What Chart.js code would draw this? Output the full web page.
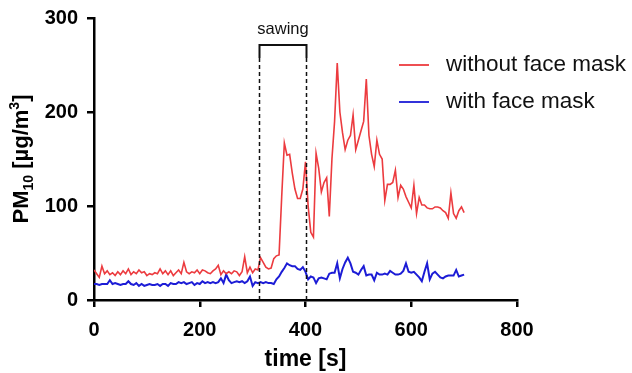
<!DOCTYPE html>
<html>
<head>
<meta charset="utf-8">
<script src="https://cdn.jsdelivr.net/npm/chart.js@4"></script>
<style>
  html, body { margin: 0; padding: 0; background: #fff; }
  #wrap { width: 632px; height: 373px; }
</style>
</head>
<body>
<div id="wrap"><canvas id="pmChart" width="632" height="373"></canvas></div>
<script>
// time [s], one reading every 5 s
const TIMES = [];
for (let t = 0; t <= 700; t += 5) TIMES.push(t);

const WITHOUT_MASK = [
  32, 28, 24, 36, 28, 31, 27, 29, 26, 30, 27, 31, 28, 33, 27, 30, 28, 32, 29, 30,
  26, 28, 27, 29, 28, 33, 28, 31, 27, 31, 26, 29, 32, 28, 40, 30, 28, 30, 29, 32,
  28, 32, 31, 29, 28, 31, 33, 37, 27, 31, 28, 30, 28, 31, 30, 26, 30, 46, 29, 35,
  29, 33, 32, 45, 40, 35, 33, 34, 44, 47, 48, 110, 167, 154, 155, 135, 118, 108, 108, 118,
  147, 100, 72, 67, 156, 140, 115, 125, 130, 89, 150, 190, 252, 200, 178, 160, 170, 175, 197, 160,
  170, 180, 190, 235, 175, 155, 142, 170, 155, 150, 106, 123, 123, 125, 138, 109, 122, 118, 110, 104,
  98, 122, 92, 109, 101, 101, 98, 97, 97, 99, 99, 98, 95, 93, 87, 114, 92, 87, 95, 99,
  93,
];

const WITH_MASK = [
  17, 17, 16, 17, 17, 17, 21, 17, 18, 17, 16, 17, 17, 20, 17, 16, 18, 15, 17, 15,
  16, 17, 16, 16, 17, 15, 17, 17, 15, 18, 17, 17, 19, 18, 19, 17, 18, 19, 16, 18,
  17, 20, 18, 19, 18, 19, 18, 19, 23, 18, 27, 21, 18, 19, 20, 19, 20, 18, 20, 25,
  15, 19, 18, 19, 18, 19, 18, 18, 17, 22, 25, 30, 34, 39, 37, 36, 36, 33, 32, 35,
  30, 22, 25, 24, 18, 23, 24, 23, 22, 28, 29, 29, 39, 23, 33, 40, 45, 39, 30, 29,
  27, 32, 36, 26, 27, 27, 21, 29, 27, 27, 28, 27, 31, 29, 27, 27, 28, 31, 39, 30,
  29, 30, 27, 24, 20, 30, 39, 22, 28, 30, 27, 24, 23, 25, 26, 26, 26, 32, 25, 26,
  27,
];

const SERIES_LABELS = ["without face mask", "with face mask"];
const SERIES_COLORS = ["#ec3b3f", "#1c1cd6"];

const X_TICKS = [0, 200, 400, 600, 800];
const Y_TICKS = [0, 100, 200, 300];

const SAWING = [312, 400]; // start / end of sawing [s]

const FONT = "'Liberation Sans', Arial, sans-serif";

function toPoints(values) {
  return values.map((v, i) => ({ x: TIMES[i], y: v }));
}

const annotations = {
  id: "annotations",
  afterDatasetsDraw(chart) {
    const ctx = chart.ctx;
    const xs = chart.scales.x;
    const ys = chart.scales.y;
    const x1 = Math.round(xs.getPixelForValue(SAWING[0])) + 0.5;
    const x2 = Math.round(xs.getPixelForValue(SAWING[1])) + 0.5;
    const yBottom = ys.getPixelForValue(0);
    const yTop = 45;
    const yBracket = 58;

    ctx.save();
    ctx.strokeStyle = "#111";
    ctx.lineWidth = 1.5;
    ctx.setLineDash([4, 3]);
    [x1, x2].forEach((x) => {
      ctx.beginPath();
      ctx.moveTo(x, yBracket);
      ctx.lineTo(x, yBottom);
      ctx.stroke();
    });
    ctx.setLineDash([]);
    ctx.lineWidth = 2;
    ctx.beginPath();
    ctx.moveTo(x1, yBracket);
    ctx.lineTo(x1, yTop);
    ctx.lineTo(x2, yTop);
    ctx.lineTo(x2, yBracket);
    ctx.stroke();

    ctx.fillStyle = "#111";
    ctx.font = "16.5px " + FONT;
    ctx.textAlign = "center";
    ctx.textBaseline = "alphabetic";
    ctx.fillText("sawing", (x1 + x2) / 2, 34);

    // legend
    ctx.font = "22.5px " + FONT;
    ctx.textAlign = "left";
    ctx.textBaseline = "middle";
    const legendY = [65, 102];
    SERIES_LABELS.forEach((label, i) => {
      ctx.strokeStyle = SERIES_COLORS[i];
      ctx.lineWidth = 1.8;
      ctx.beginPath();
      ctx.moveTo(399, legendY[i]);
      ctx.lineTo(429, legendY[i]);
      ctx.stroke();
      ctx.fillStyle = "#111";
      ctx.fillText(label, 446, legendY[i]);
    });

    // axis titles
    ctx.fillStyle = "#000";
    ctx.font = "bold 23px " + FONT;
    ctx.textAlign = "center";
    ctx.textBaseline = "alphabetic";
    ctx.fillText("time [s]", (xs.left + xs.right) / 2, 366);

    ctx.translate(28, 159);
    ctx.rotate(-Math.PI / 2);
    const parts = [
      { t: "PM", f: "bold 22px", dy: 0 },
      { t: "10", f: "bold 14px", dy: 5 },
      { t: " [µg/m", f: "bold 22px", dy: 0 },
      { t: "3", f: "bold 14px", dy: -9 },
      { t: "]", f: "bold 22px", dy: 0 },
    ];
    let total = 0;
    parts.forEach((p) => {
      ctx.font = p.f + " " + FONT;
      p.w = ctx.measureText(p.t).width;
      total += p.w;
    });
    let px = -total / 2;
    ctx.textAlign = "left";
    parts.forEach((p) => {
      ctx.font = p.f + " " + FONT;
      ctx.fillText(p.t, px, p.dy);
      px += p.w;
    });
    ctx.restore();
  },
};

const ctx = document.getElementById("pmChart").getContext("2d");

new Chart(ctx, {
  type: "line",
  data: {
    datasets: [
      {
        label: SERIES_LABELS[0],
        data: toPoints(WITHOUT_MASK),
        borderColor: SERIES_COLORS[0],
        borderWidth: 1.6,
        pointRadius: 0,
        tension: 0,
        fill: false,
      },
      {
        label: SERIES_LABELS[1],
        data: toPoints(WITH_MASK),
        borderColor: SERIES_COLORS[1],
        borderWidth: 2,
        pointRadius: 0,
        tension: 0,
        fill: false,
      },
    ],
  },
  options: {
    responsive: false,
    animation: false,
    layout: {
      padding: { top: 18, right: 115, left: 0, bottom: 0 },
    },
    plugins: {
      legend: { display: false },
      tooltip: { enabled: false },
    },
    scales: {
      x: {
        type: "linear",
        min: 0,
        max: 800,
        afterBuildTicks: (scale) => {
          scale.ticks = X_TICKS.map((v) => ({ value: v }));
        },
        afterFit: (scale) => {
          scale.height = 73;
          scale.paddingLeft = 0;
          scale.paddingRight = 0;
        },
        ticks: {
          color: "#000",
          padding: 11,
          font: { family: FONT, size: 20, weight: "bold" },
        },
        grid: {
          drawOnChartArea: false,
          drawTicks: true,
          tickLength: 7,
          color: "#000",
          lineWidth: 2.5,
        },
        border: { color: "#000", width: 2.5 },
      },
      y: {
        min: 0,
        max: 300,
        afterBuildTicks: (scale) => {
          scale.ticks = Y_TICKS.map((v) => ({ value: v }));
        },
        afterFit: (scale) => {
          scale.width = 94;
          scale.paddingTop = 0;
          scale.paddingBottom = 0;
        },
        ticks: {
          color: "#000",
          padding: 9,
          font: { family: FONT, size: 20, weight: "bold" },
        },
        grid: {
          drawOnChartArea: false,
          drawTicks: true,
          tickLength: 7,
          color: "#000",
          lineWidth: 2.5,
        },
        border: { color: "#000", width: 2.5 },
      },
    },
  },
  plugins: [annotations],
});
</script>
</body>
</html>
